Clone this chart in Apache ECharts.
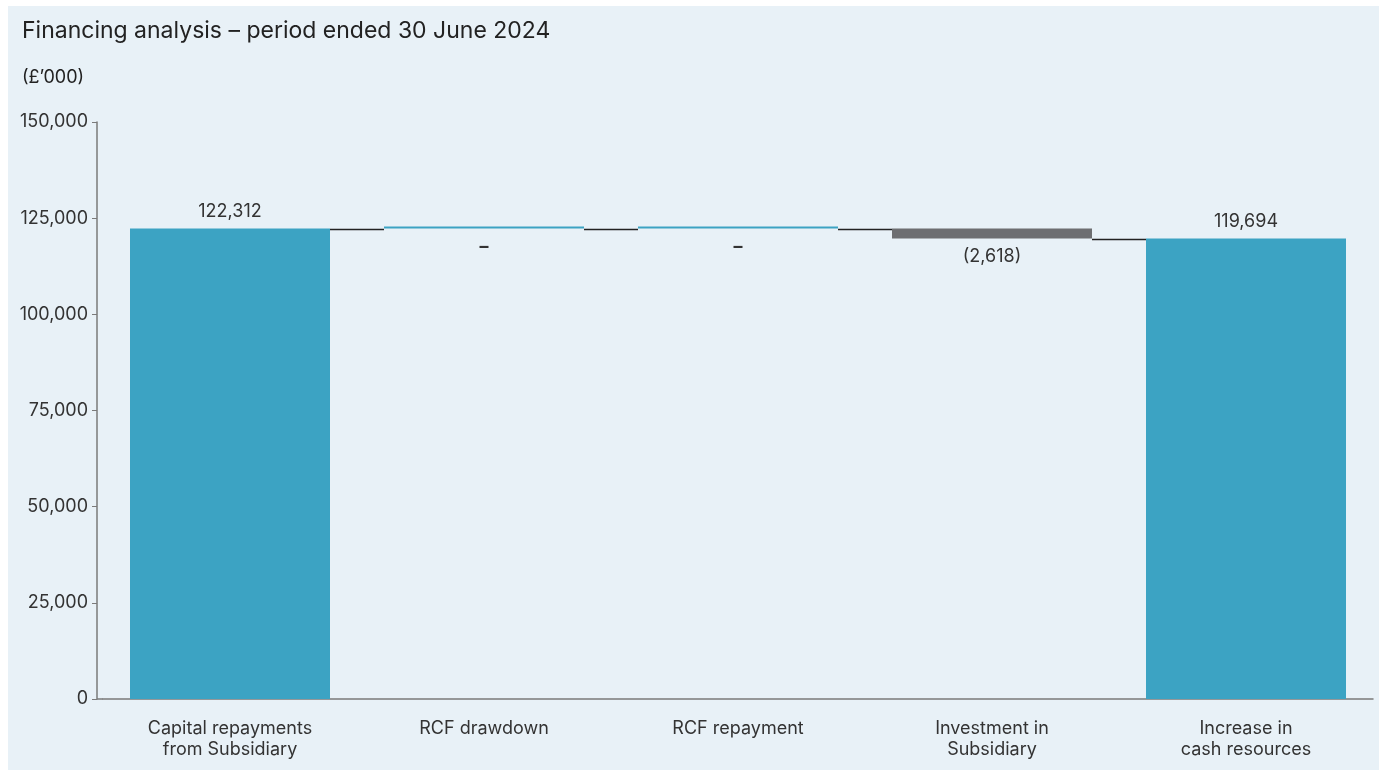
<!DOCTYPE html>
<html>
<head>
<meta charset="utf-8">
<script src="https://cdn.jsdelivr.net/npm/echarts@6/dist/echarts.min.js"></script>
<style>
  html, body { margin: 0; padding: 0; background: #ffffff; }
  #chart { position: absolute; left: 8px; top: 6px; width: 1371px; height: 764px; background: #e8f1f7; }
</style>
</head>
<body>
<div id="chart"></div>
<script>
const titleText = 'Financing analysis \u2013 period ended 30 June 2024';
const unitText = '(\u00a3\u2019000)';
const categories = ['Capital repayments\nfrom Subsidiary', 'RCF drawdown', 'RCF repayment', 'Investment in\nSubsidiary', 'Increase in\ncash resources'];
const values = [122312, 0, 0, -2618, 119694];
const kinds = ['total', 'change', 'change', 'change', 'total'];
const yTicks = [0, 25000, 50000, 75000, 100000, 125000, 150000];

const BLUE = '#3ca3c3', GREY = '#6d6e71', TEXT = '#333333', AXIS = '#7a7a7a';

// derive waterfall pieces
let running = 0;
const baseData = [], barData = [], levels = [];
values.forEach((v, i) => {
  let base, h;
  if (kinds[i] === 'total') { base = 0; h = v; running = v; }
  else { base = Math.min(running, running + v); h = Math.abs(v); running += v; }
  baseData.push(base);
  levels.push(running);
  const neg = v < 0;
  barData.push({
    value: h,
    itemStyle: { color: neg ? GREY : BLUE },
    label: {
      position: kinds[i] === 'total' ? 'top' : 'bottom',
      distance: kinds[i] === 'total' ? 8 : 9,
      fontWeight: v === 0 ? 'bold' : 'normal'
    }
  });
});
const connectors = levels.slice(0, -1).map((lv, i) => [i, lv]);

function fmt(v) {
  if (v === 0) return '\u2013';
  const s = Math.abs(v).toLocaleString('en-US');
  return v < 0 ? '(' + s + ')' : s;
}

const FONT = 'Inter';
const FS = 18;
const chart = echarts.init(document.getElementById('chart'), null, { renderer: 'canvas' });
chart.setOption({
  animation: false,
  textStyle: { fontFamily: FONT },
  title: [
    { text: titleText, left: 14, top: 14, padding: 0, textStyle: { fontFamily: FONT, fontSize: 23, fontWeight: 'normal', color: '#222' } },
    { text: unitText, left: 14, top: 63, padding: 0, textStyle: { fontFamily: FONT, fontSize: FS, fontWeight: 'normal', color: '#222' } }
  ],
  grid: { left: 95, right: 6, top: 116, bottom: 71, containLabel: false },
  xAxis: {
    type: 'category',
    data: categories,
    axisLine: { lineStyle: { color: AXIS, width: 1.5 } },
    axisTick: { show: false },
    axisLabel: { color: TEXT, fontSize: FS, fontFamily: FONT, lineHeight: 21, margin: 19, interval: 0 }
  },
  yAxis: {
    type: 'value',
    min: 0, max: 150000, interval: 25000,
    offset: 6,
    axisLine: { show: true, lineStyle: { color: AXIS, width: 1.5 } },
    axisTick: { show: true, length: 5, lineStyle: { color: AXIS } },
    splitLine: { show: false },
    axisLabel: {
      color: TEXT, fontSize: FS, fontFamily: FONT, margin: 9,
      formatter: v => yTicks.includes(v) ? v.toLocaleString('en-US') : ''
    }
  },
  graphic: [
    { type: 'line', shape: { x1: 89, y1: 693, x2: 95, y2: 693 }, style: { stroke: AXIS, lineWidth: 1.5 }, z: 10 }
  ],
  series: [
    {
      name: 'base', type: 'bar', stack: 'w', barWidth: 200,
      itemStyle: { color: 'transparent' }, emphasis: { disabled: true },
      data: baseData, silent: true
    },
    {
      name: 'value', type: 'bar', stack: 'w', barWidth: 200, barMinHeight: 2,
      data: barData,
      label: {
        show: true, color: TEXT, fontSize: FS, fontFamily: FONT,
        formatter: p => fmt(values[p.dataIndex])
      }
    },
    {
      name: 'connector', type: 'custom', silent: true, z: 5,
      data: connectors,
      renderItem: (params, api) => {
        const i = api.value(0), lv = api.value(1);
        const p1 = api.coord([i, lv]);
        const p2 = api.coord([i + 1, lv]);
        const half = 100;
        return {
          type: 'line',
          shape: { x1: p1[0] + half, y1: Math.round(p1[1]) + 0.5, x2: p2[0] - half, y2: Math.round(p1[1]) + 0.5 },
          style: { stroke: '#222', lineWidth: 1.5 }
        };
      }
    }
  ]
});
</script>
</body>
</html>
